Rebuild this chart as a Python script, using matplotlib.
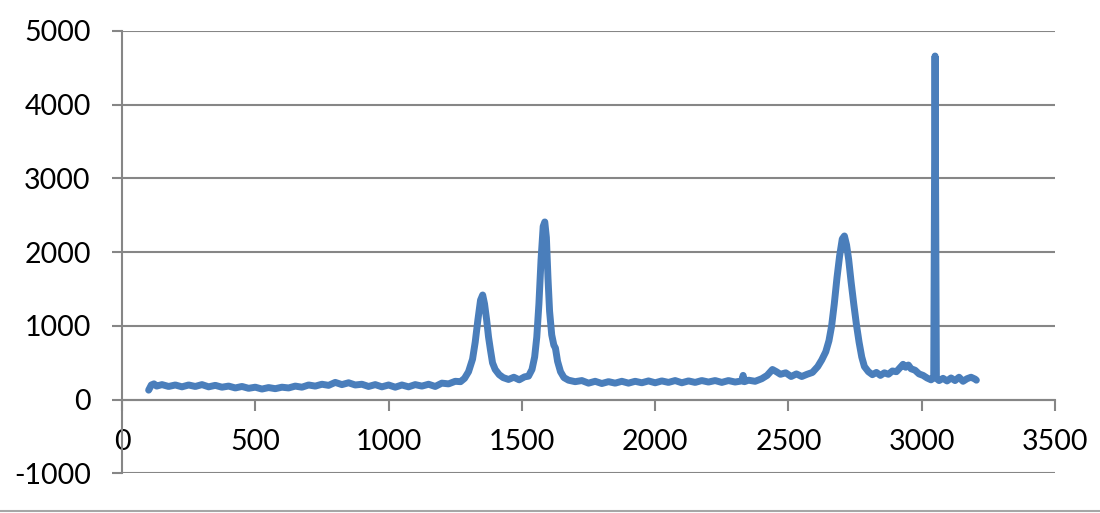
import matplotlib
matplotlib.use("Agg")
import matplotlib.pyplot as plt
from matplotlib.lines import Line2D

# Raman shift (cm^-1) and intensity
shift = [100, 110, 120, 130, 150, 175, 200, 225, 250, 275, 300, 325, 350, 375, 400,
         425, 450, 475, 500, 525, 550, 575, 600, 625, 650, 675, 700, 725, 750, 775,
         800, 825, 850, 875, 900, 925, 950, 975, 1000, 1025, 1050, 1075, 1100, 1125,
         1150, 1175, 1200, 1225, 1250, 1270, 1285, 1300, 1315, 1325, 1335, 1345, 1353,
         1360, 1368, 1375, 1382, 1390, 1400, 1415, 1430, 1450, 1470, 1490, 1510, 1525,
         1538, 1548, 1556, 1564, 1572, 1580, 1586, 1592, 1598, 1604, 1612, 1620, 1626,
         1634, 1645, 1658, 1675, 1700, 1725, 1750, 1775, 1800, 1825, 1850, 1875, 1900,
         1925, 1950, 1975, 2000, 2025, 2050, 2075, 2100, 2125, 2150, 2175, 2200, 2225,
         2250, 2275, 2300, 2325, 2330, 2335, 2350, 2375, 2400, 2420, 2440, 2455, 2470,
         2490, 2510, 2530, 2550, 2570, 2590, 2610, 2625, 2640, 2652, 2662, 2672, 2682,
         2692, 2702, 2710, 2718, 2726, 2735, 2745, 2755, 2765, 2775, 2785, 2800, 2815,
         2830, 2845, 2860, 2875, 2890, 2905, 2920, 2930, 2940, 2950, 2960, 2975, 2990,
         3005, 3020, 3035, 3045, 3050, 3055, 3065, 3080, 3095, 3110, 3125, 3140, 3155,
         3170, 3185, 3200, 3205]
intensity = [130, 200, 215, 185, 205, 180, 200, 175, 200, 180, 205, 175, 195, 170, 185,
             160, 180, 155, 170, 145, 165, 150, 170, 160, 185, 170, 200, 185, 210, 195,
             235, 205, 230, 200, 210, 180, 205, 175, 200, 170, 200, 175, 205, 185,
             210, 180, 225, 215, 250, 245, 290, 380, 550, 780, 1080, 1350, 1420,
             1300, 1080, 850, 680, 500, 410, 340, 300, 275, 305, 270, 310, 320,
             410, 580, 850, 1300, 1900, 2350, 2410, 2200, 1650, 1200, 880, 740, 700,
             520, 380, 300, 265, 245, 260, 225, 250, 220, 245, 225, 250, 225,
             250, 230, 255, 230, 255, 235, 260, 230, 255, 235, 260, 240, 260,
             235, 260, 240, 255, 330, 245, 265, 250, 285, 330, 410, 380, 345,
             365, 315, 350, 315, 345, 370, 450, 540, 650, 800, 1000, 1300, 1650,
             1950, 2180, 2220, 2100, 1900, 1600, 1300, 1020, 780, 580, 450, 380, 340,
             370, 330, 365, 345, 390, 380, 440, 480, 440, 470, 420, 400, 350,
             330, 295, 270, 300, 4660, 290, 260, 290, 255, 295, 260, 305, 250,
             285, 305, 280, 265]

x_ticks = [0, 500, 1000, 1500, 2000, 2500, 3000, 3500]
y_ticks = [-1000, 0, 1000, 2000, 3000, 4000, 5000]

LINE_BLUE = "#4A7EBB"
GRID = "#868686"

plt.rcParams["font.family"] = ["Lato", "DejaVu Sans"]

fig = plt.figure(figsize=(11, 5.13), dpi=100)
ax = fig.add_axes([0.1109, 0.077, 0.8482, 0.8627])

ax.plot(shift, intensity, color=LINE_BLUE, lw=5.0, solid_capstyle="round",
        solid_joinstyle="round", zorder=3)

ax.set_xlim(0, 3500)
ax.set_ylim(-1000, 5000)
ax.set_xticks(x_ticks)
ax.set_yticks(y_ticks)
ax.set_xticklabels([str(v) for v in x_ticks])
ax.set_yticklabels([str(v) for v in y_ticks])

ax.yaxis.grid(True, color=GRID, lw=1.5, zorder=1)
ax.set_axisbelow(True)

for s in ["top", "right"]:
    ax.spines[s].set_visible(False)
ax.spines["bottom"].set_position(("data", 0))
ax.spines["bottom"].set_color(GRID)
ax.spines["bottom"].set_linewidth(1.5)
ax.spines["left"].set_color(GRID)
ax.spines["left"].set_linewidth(1.5)

ax.tick_params(axis="x", direction="out", length=8, width=1.5, color=GRID,
               labelsize=20.5, pad=13, labelcolor="black")
ax.tick_params(axis="y", direction="out", length=7.5, width=1.5, color=GRID,
               labelsize=20.5, pad=15, labelcolor="black")

# bottom border of chart area
fig.add_artist(Line2D([0, 1], [0.004, 0.004], transform=fig.transFigure,
                      color="#A6A6A6", lw=1.5))

fig.savefig("out.png", dpi=100)
